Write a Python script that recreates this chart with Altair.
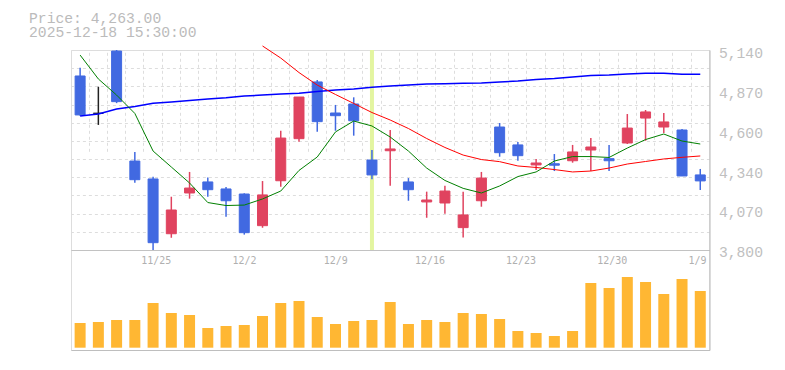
import json
import altair as alt
import pandas as pd

# ---------------- data ----------------
dates = ["11/18", "11/19", "11/20", "11/21", "11/25", "11/26", "11/27", "11/28",
         "12/1", "12/2", "12/3", "12/4", "12/5", "12/8", "12/9", "12/10", "12/11",
         "12/12", "12/15", "12/16", "12/17", "12/18", "12/19", "12/22", "12/23",
         "12/24", "12/25", "12/26", "12/29", "12/30", "1/5", "1/6", "1/7", "1/8", "1/9"]
opens = [4966, 4716, 5133, 4396, 4276, 3909, 4182, 4256, 4209, 4175, 3963, 4264,
         4546, 4926, 4718, 4778, 4403, 4465, 4256, 4122, 4115, 3950, 4130, 4624,
         4504, 4370, 4378, 4398, 4470, 4412, 4517, 4684, 4624, 4604, 4303]
highs = [5021, 4894, 5140, 4457, 4291, 4157, 4323, 4285, 4222, 4180, 4262, 4599,
         4825, 4939, 4772, 4823, 4470, 4604, 4282, 4191, 4231, 4191, 4323, 4651,
         4524, 4410, 4443, 4504, 4550, 4504, 4711, 4738, 4718, 4611, 4343]
lows = [4700, 4638, 4784, 4251, 3800, 3882, 4144, 4157, 4023, 3903, 3949, 4224,
        4526, 4593, 4599, 4566, 4274, 4231, 4130, 4016, 4043, 3883, 4090, 4425,
        4398, 4336, 4329, 4385, 4329, 4329, 4510, 4532, 4584, 4295, 4202]
closes = [4705, 4716, 4794, 4271, 3849, 4068, 4215, 4204, 4130, 3916, 4169, 4550,
          4825, 4660, 4700, 4666, 4303, 4477, 4204, 4135, 4195, 4035, 4282, 4452,
          4432, 4383, 4368, 4457, 4490, 4398, 4617, 4725, 4658, 4296, 4263]
ma_short = [5106, 4946, 4838, 4715, 4463, 4356, 4249, 4118, 4098, 4101, 4142, 4195,
            4333, 4423, 4591, 4664, 4631, 4557, 4463, 4349, 4266, 4213, 4182, 4229,
            4292, 4323, 4396, 4426, 4426, 4420, 4483, 4540, 4577, 4530, 4510]
ma_mid_dates = dates[10:]
ma_mid = [5167, 5086, 4989, 4905, 4842, 4782, 4721, 4671, 4614, 4547, 4487, 4436,
          4406, 4392, 4363, 4353, 4339, 4323, 4329, 4349, 4376, 4393, 4410, 4421, 4430]
ma_long = [4698, 4711, 4745, 4761, 4783, 4792, 4802, 4812, 4820, 4832, 4838, 4845,
           4850, 4862, 4872, 4879, 4890, 4899, 4905, 4912, 4914, 4917, 4919, 4926,
           4932, 4942, 4949, 4959, 4969, 4972, 4979, 4984, 4984, 4977, 4977]
volumes = [247000, 257000, 277000, 277000, 447000, 347000, 327000, 197000, 217000,
           227000, 317000, 447000, 467000, 307000, 237000, 267000, 277000, 457000,
           237000, 277000, 257000, 347000, 337000, 287000, 167000, 147000, 117000,
           167000, 647000, 597000, 707000, 657000, 537000, 687000, 567000]
label_dates = ["11/25", "12/2", "12/9", "12/16", "12/23", "12/30", "1/9"]
price_ticks = [3800, 4068, 4336, 4604, 4872, 5140]
price_tick_labels = ["3,800", "4,070", "4,340", "4,600", "4,870", "5,140"]
highlight_date = ["12/11"]
price_min, price_max = 3800, 5140
stamp = "2025-12-18 15:30:00"

# ---------------- tables ----------------
def direction(o, c):
    return "up" if c > o else ("down" if c < o else "flat")

ohlc = pd.DataFrame({"date": dates, "open": opens, "high": highs, "low": lows,
                     "close": closes,
                     "dir": [direction(o, c) for o, c in zip(opens, closes)]})
short_df = pd.DataFrame({"date": dates, "ma": ma_short})
mid_df = pd.DataFrame({"date": ma_mid_dates, "ma": ma_mid})
long_df = pd.DataFrame({"date": dates, "ma": ma_long})
vol_df = pd.DataFrame({"date": dates, "vol": volumes})
hl_df = pd.DataFrame({"date": highlight_date, "lo": [price_min], "hi": [price_max]})

# ---------------- styles ----------------
MONO = "Liberation Mono"
UP, DOWN, FLAT = "#e0435f", "#4169e1", "#222222"
GRID = "#dddddd"
FRAME = "#bbbbbb"
span = price_max - price_min
floor = price_min - span / 2          # bottom of volume strip on the price scale
grid_levels = [round(price_min + k * span / 11, 3) for k in range(12)]
label_only = [v for v in price_ticks if v not in (price_min, price_max)]
axis_vals = sorted(set([floor] + grid_levels + price_ticks))

label_expr_y = (f"indexof({price_ticks}, datum.value) >= 0 ? "
                f"{json.dumps(price_tick_labels)}[indexof({price_ticks}, datum.value)] : ''")
solid_test = f"datum.value <= {price_min}"

y_axis = alt.Axis(
    orient="right", offset=0, title=None, values=axis_vals,
    ticks=False, tickSize=0, domain=True, domainColor=FRAME,
    grid=True,
    gridDash={"condition": {"test": solid_test, "value": [1, 0]}, "value": [3, 3]},
    gridColor={"condition": {"test": solid_test, "value": FRAME}, "value": GRID},
    gridOpacity={"condition": {"test": f"indexof({label_only}, datum.value) >= 0", "value": 0}, "value": 1},
    labelExpr=label_expr_y, labelFont=MONO, labelFontSize=14.7, labelColor="#c0c0c0",
    labelPadding=9, labelBaseline="middle", labelOffset=3,
    labelOverlap=False, labelFlush=False, labelBound=False,
)
y_scale = alt.Scale(domain=[floor, price_max], nice=False, zero=False)

x_axis = alt.Axis(
    orient="bottom", offset=-100, title=None, domain=False, ticks=False, tickSize=0,
    grid=True, gridDash=[3, 3], gridColor=GRID, bandPosition=0,
    labelExpr=f"indexof({json.dumps(label_dates)}, datum.value) >= 0 ? datum.value : ''",
    labelAlign="left", labelOffset=-11.8, labelAngle=0, labelPadding=6,
    labelBaseline="top", labelFont="DejaVu Sans Mono", labelFontSize=10, labelColor="#b0b0b0",
    labelOverlap=False, labelFlush=False, labelBound=False,
)
x_scale = alt.Scale(domain=dates, paddingInner=0, paddingOuter=0)


def X():
    return alt.X("date:O", scale=x_scale, axis=x_axis, sort=dates)


def Y(field):
    return alt.Y(field, type="quantitative", scale=y_scale, axis=y_axis)


dir_scale = alt.Scale(domain=["up", "down", "flat"], range=[UP, DOWN, FLAT])

highlight = alt.Chart(hl_df).mark_rule(color="#e3f5a0", strokeWidth=4).encode(
    x=X(), y=Y("lo"), y2="hi")

wicks = alt.Chart(ohlc).mark_rule(strokeWidth=1.5).encode(
    x=X(), y=Y("low"), y2="high",
    color=alt.Color("dir:N", scale=dir_scale, legend=None))

bodies = alt.Chart(ohlc).mark_bar(size=10, strokeWidth=1).encode(
    x=X(), y=Y("open"), y2="close",
    fill=alt.Fill("dir:N", scale=dir_scale, legend=None),
    stroke=alt.Stroke("dir:N", scale=dir_scale, legend=None))

line_long = alt.Chart(long_df).mark_line(color="#0000ff", strokeWidth=1.5).encode(
    x=X(), y=Y("ma"))
line_mid = alt.Chart(mid_df).mark_line(color="#ff0000", strokeWidth=1).encode(
    x=X(), y=Y("ma"))
line_short = alt.Chart(short_df).mark_line(color="#008000", strokeWidth=1).encode(
    x=X(), y=Y("ma"))

price = alt.layer(highlight, wicks, bodies, line_long, line_mid, line_short)

vol = alt.Chart(vol_df).mark_bar(size=11, color="#ffb733").encode(
    x=X(),
    y=alt.Y("vol:Q", scale=alt.Scale(domain=[0, 1000000], range=[297.7, 197.7], nice=False),
            axis=None))

t1 = alt.Chart(pd.DataFrame({"t": [f"Price: {closes[-1]:,.2f}"]})).mark_text(
    font=MONO, fontSize=14.7, color="#bbbbbb", align="left", baseline="alphabetic"
).encode(text="t:N", x=alt.value(-42), y=alt.value(-27.3))
t2 = alt.Chart(pd.DataFrame({"t": [stamp]})).mark_text(
    font=MONO, fontSize=14.7, color="#bbbbbb", align="left", baseline="alphabetic"
).encode(text="t:N", x=alt.value(-42), y=alt.value(-12.7))

chart = alt.layer(vol, price, t1, t2).resolve_scale(y="independent").properties(
    width=638.4, height=300,
    autosize=alt.AutoSizeParams(type="none"),
    padding={"left": 63, "top": 42, "right": 66, "bottom": 10},
).configure_view(stroke=None).configure(background="#ffffff")

chart.save("out.html", embed_options={"renderer": "svg", "actions": False})
